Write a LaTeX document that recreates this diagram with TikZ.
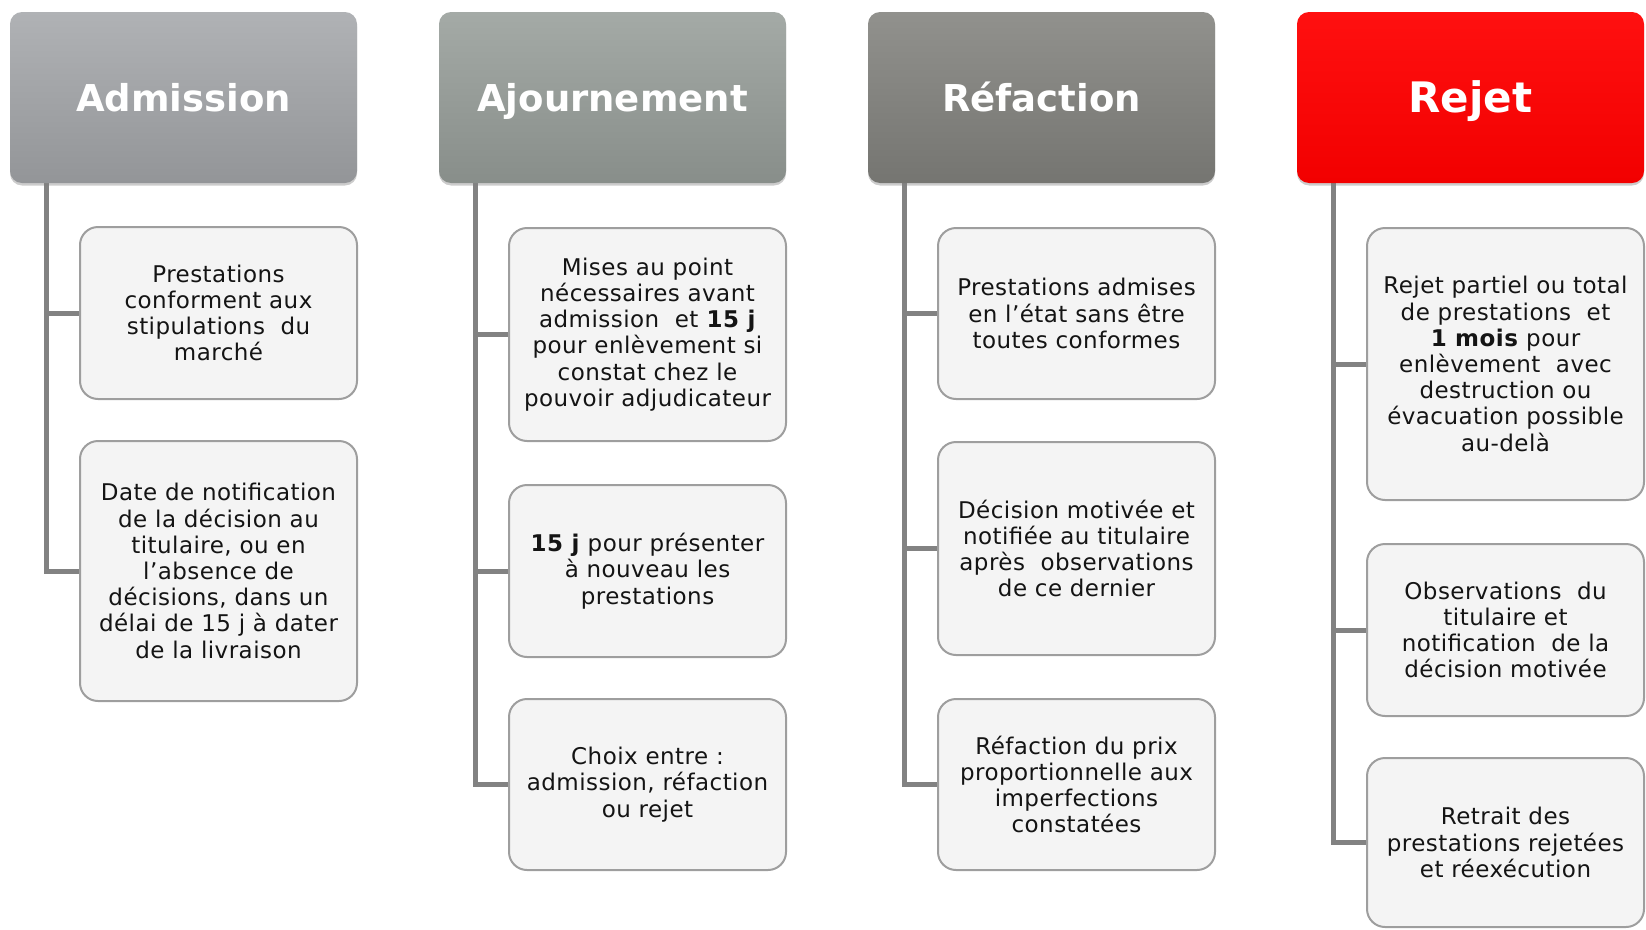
\documentclass[tikz,border=0pt]{standalone}
\usepackage{fontspec}
\setmainfont{DejaVu Sans}[LetterSpace=2.0]
\newfontfamily\headfont{DejaVu Sans}
\usetikzlibrary{shadows}

\definecolor{admTop}{HTML}{B0B2B5}
\definecolor{admBot}{HTML}{939598}
\definecolor{ajoTop}{HTML}{A4AAA6}
\definecolor{ajoBot}{HTML}{888E8A}
\definecolor{refTop}{HTML}{91918D}
\definecolor{refBot}{HTML}{757571}
\definecolor{rejTop}{HTML}{FF1010}
\definecolor{rejBot}{HTML}{F20000}
\definecolor{itemfill}{HTML}{F4F4F4}
\definecolor{itemline}{HTML}{9E9E9E}
\definecolor{connline}{HTML}{828282}

\begin{document}
\begin{tikzpicture}[x=1pt,y=-1pt,
  head/.style={rounded corners=12pt, minimum width=347pt, minimum height=171pt,
    inner sep=0pt, text=white, text height=27pt, text depth=0pt,
    font=\headfont\bfseries\fontsize{37}{40}\selectfont,
    drop shadow={opacity=0.4, shadow xshift=0pt, shadow yshift=-2.5pt}},
  item/.style={rounded corners=18pt, minimum width=277pt, inner sep=0pt,
    fill=itemfill, draw=itemline, line width=2pt, align=center,
    font=\fontsize{23}{26.2}\selectfont, text=black!92},
  conn/.style={draw=connline, line width=5pt}
]
\useasboundingbox (0,0) rectangle (1646,929);

% trunk positions of the four columns
\coordinate (v1) at (46,0);
\coordinate (v2) at (475,0);
\coordinate (v3) at (904,0);
\coordinate (v4) at (1333,0);

% --- detail boxes ---
\node[item, minimum height=172pt] (a1) at (218.5,313) {Prestations\\conforment aux\\stipulations\ \ du\\marché};
\node[item, minimum height=260pt] (a2) at (218.5,571) {Date de notification\\de la décision au\\titulaire, ou en\\l’absence de\\décisions, dans un\\délai de 15 j à dater\\de la livraison};

\node[item, minimum height=213pt] (b1) at (647.5,334.5) {Mises au point\\nécessaires avant\\admission\ \ et \textbf{15 j}\\pour enlèvement si\\constat chez le\\pouvoir adjudicateur};
\node[item, minimum height=172pt] (b2) at (647.5,571) {\textbf{15 j} pour présenter\\à nouveau les\\prestations};
\node[item, minimum height=171pt] (b3) at (647.5,784.5) {Choix entre :\\admission, réfaction\\ou rejet};

\node[item, minimum height=171pt] (c1) at (1076.5,313.5) {Prestations admises\\en l’état sans être\\toutes conformes};
\node[item, minimum height=213pt] (c2) at (1076.5,548.5) {Décision motivée et\\notifiée au titulaire\\après\ \ observations\\de ce dernier};
\node[item, minimum height=171pt] (c3) at (1076.5,784.5) {Réfaction du prix\\proportionnelle aux\\imperfections\\constatées};

\node[item, minimum height=272pt] (d1) at (1505.5,364) {Rejet partiel ou total\\de prestations\ \ et\\\textbf{1 mois} pour\\enlèvement\ \ avec\\destruction ou\\évacuation possible\\au-delà};
\node[item, minimum height=172pt] (d2) at (1505.5,630) {Observations\ \ du\\titulaire et\\notification\ \ de la\\décision motivée};
\node[item, minimum height=169pt] (d3) at (1505.5,842.5) {Retrait des\\prestations rejetées\\et réexécution};

% --- connectors (drawn before the headers so the headers cover their ends) ---
\draw[conn] (v1 |- 0,170) |- (a2.west);
\draw[conn] (v1 |- a1.west) -- (a1.west);

\draw[conn] (v2 |- 0,170) |- (b3.west);
\draw[conn] (v2 |- b1.west) -- (b1.west);
\draw[conn] (v2 |- b2.west) -- (b2.west);

\draw[conn] (v3 |- 0,170) |- (c3.west);
\draw[conn] (v3 |- c1.west) -- (c1.west);
\draw[conn] (v3 |- c2.west) -- (c2.west);

\draw[conn] (v4 |- 0,170) |- (d3.west);
\draw[conn] (v4 |- d1.west) -- (d1.west);
\draw[conn] (v4 |- d2.west) -- (d2.west);

% --- column headers ---
\node[head, top color=admTop, bottom color=admBot] (h1) at (183.5,97.5) {Admission};
\node[head, top color=ajoTop, bottom color=ajoBot] (h2) at (612.5,97.5) {Ajournement};
\node[head, top color=refTop, bottom color=refBot] (h3) at (1041.5,97.5) {Réfaction};
\node[head, top color=rejTop, bottom color=rejBot, text height=30pt,
      font=\headfont\bfseries\fontsize{42}{46}\selectfont] (h4) at (1470.5,97.5) {Rejet};
\end{tikzpicture}
\end{document}
